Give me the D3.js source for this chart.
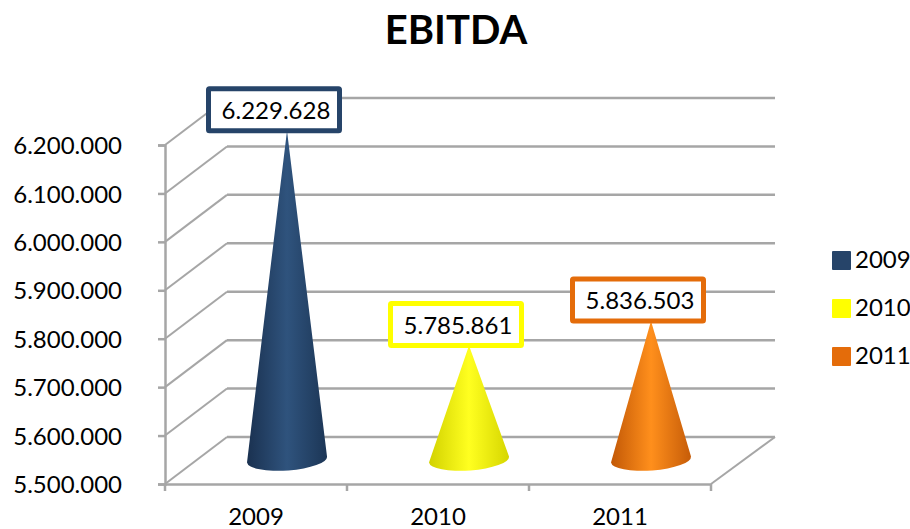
<!DOCTYPE html>
<html>
<head>
<meta charset="utf-8">
<script src="https://cdn.jsdelivr.net/npm/d3@7"></script>
<style>
body { margin: 0; background: #fff; }
svg { display: block; }
text { font-family: Lato, "Open Sans", sans-serif; fill: #000; }
</style>
</head>
<body>
<div class="chart"></div>
<script>
const years = ["2009", "2010", "2011"]
const ebitda = [6229628, 5785861, 5836503]
const colors = ["#264469", "#ffff00", "#e46c0a"]
const gradients = [
	["#1a3150", "#2f537d", "#1c3656"],
	["#d2d200", "#ffff20", "#d6d600"],
	["#c25806", "#ff8f1c", "#c65c08"]
]
const yTicks = [5500000, 5600000, 5700000, 5800000, 5900000, 6000000, 6100000, 6200000]

const svgWidth = 910
const svgHeight = 529
const grey = "#a6a6a6"

// front plane of the fake 3d box, back wall is shifted by depth
const front = { left: 165, right: 711, top: 145, bottom: 484 }
const depth = { x: 62, y: -47 }

const svg = d3.select(".chart")
	.append("svg")
	.attr("width", svgWidth)
	.attr("height", svgHeight)

const xScale = d3.scaleBand().domain(years).range([front.left, front.right])
const yScale = d3.scaleLinear().domain([5500000, 6200000]).range([front.bottom, front.top])
const dotted = d3.formatLocale({ decimal: ",", thousands: ".", grouping: [3], currency: ["", ""] }).format(",d")

svg.append("text")
	.attr("x", 456)
	.attr("y", 44)
	.attr("text-anchor", "middle")
	.style("font-size", "40px")
	.style("font-weight", "700")
	.text("EBITDA")

// back wall lines and the diagonals coming to the axis
const grid = svg.append("g").attr("stroke", grey).attr("stroke-width", 2.5).attr("fill", "none")

grid.selectAll(".wall")
	.data(yTicks)
	.enter()
	.append("line")
	.attr("x1", front.left + depth.x)
	.attr("x2", front.right + depth.x + 2)
	.attr("y1", d => yScale(d) + depth.y)
	.attr("y2", d => yScale(d) + depth.y)

grid.selectAll(".side")
	.data(yTicks)
	.enter()
	.append("line")
	.attr("stroke-width", 2)
	.attr("x1", front.left)
	.attr("x2", front.left + depth.x)
	.attr("y1", d => yScale(d))
	.attr("y2", d => yScale(d) + depth.y)

grid.append("line")
	.attr("stroke-width", 2)
	.attr("x1", front.right)
	.attr("x2", front.right + depth.x + 2)
	.attr("y1", front.bottom)
	.attr("y2", front.bottom + depth.y)

const leftAxis = d3.axisLeft(yScale)
	.tickValues(yTicks)
	.tickFormat(dotted)
	.tickSize(7)
	.tickPadding(36)
const bottomAxis = d3.axisBottom(xScale).tickSize(0).tickPadding(24)

const yAxis = svg.append("g")
	.attr("transform", `translate(${front.left}, 0)`)
	.call(leftAxis)
const xAxis = svg.append("g")
	.attr("transform", `translate(0, ${front.bottom})`)
	.call(bottomAxis)

yAxis.selectAll("text").style("font-size", "24px").style("font-family", "Lato").attr("y", 1)
xAxis.selectAll("text").style("font-size", "24px").style("font-family", "Lato")
yAxis.selectAll("path, line").attr("stroke", grey).attr("stroke-width", 2.5)
xAxis.selectAll("path").attr("stroke", grey).attr("stroke-width", 2.5)

// category separators below the floor line
svg.append("g").selectAll("line")
	.data(years.concat("end"))
	.enter()
	.append("line")
	.attr("x1", (d, i) => front.left + i * xScale.step())
	.attr("x2", (d, i) => front.left + i * xScale.step())
	.attr("y1", front.bottom)
	.attr("y2", front.bottom + 7)
	.attr("stroke", grey)
	.attr("stroke-width", 2.5)

const defs = svg.append("defs")
gradients.forEach((g, i) => {
	const grad = defs.append("linearGradient").attr("id", `cone${i}`)
	grad.append("stop").attr("offset", "0%").attr("stop-color", g[0])
	grad.append("stop").attr("offset", "50%").attr("stop-color", g[1])
	grad.append("stop").attr("offset", "100%").attr("stop-color", g[2])
})

const coneX = d => xScale(d) + xScale.bandwidth() / 2 + depth.x / 2
const baseY = front.bottom + depth.y / 2 - 1
const rx = 40
const ry = 11

// tilted ellipse base, the tip sits on the front plane scale
svg.append("g").selectAll("path")
	.data(years)
	.enter()
	.append("path")
	.attr("fill", (d, i) => `url(#cone${i})`)
	.attr("d", (d, i) => {
		const cx = coneX(d)
		return `M${cx},${yScale(ebitda[i])}`
			+ `L${cx + rx},${baseY - 3}`
			+ `A${rx},${ry} -4 0 1 ${cx - rx},${baseY + 3}Z`
	})

const boxW = 131
const boxH = 42

const labels = svg.append("g").selectAll("g")
	.data(years)
	.enter()
	.append("g")
	.attr("transform", (d, i) => `translate(${coneX(d) - 13}, ${yScale(ebitda[i]) - boxH / 2})`)

labels.append("rect")
	.attr("x", -boxW / 2)
	.attr("y", -boxH / 2)
	.attr("width", boxW)
	.attr("height", boxH)
	.attr("rx", 1)
	.attr("fill", "#fff")
	.attr("stroke", (d, i) => colors[i])
	.attr("stroke-width", 5)

labels.append("text")
	.attr("x", 2)
	.attr("y", 1)
	.attr("dy", "0.35em")
	.attr("text-anchor", "middle")
	.style("font-size", "24px")
	.text((d, i) => dotted(ebitda[i]))

const legend = svg.append("g").selectAll("g")
	.data(years)
	.enter()
	.append("g")
	.attr("transform", (d, i) => `translate(832, ${251 + i * 48})`)

legend.append("rect")
	.attr("width", 19)
	.attr("height", 19)
	.attr("rx", 1)
	.attr("fill", (d, i) => colors[i])

legend.append("text")
	.attr("x", 23)
	.attr("y", 9)
	.attr("dy", "0.35em")
	.style("font-size", "24px")
	.text(d => d)
</script>
</body>
</html>
